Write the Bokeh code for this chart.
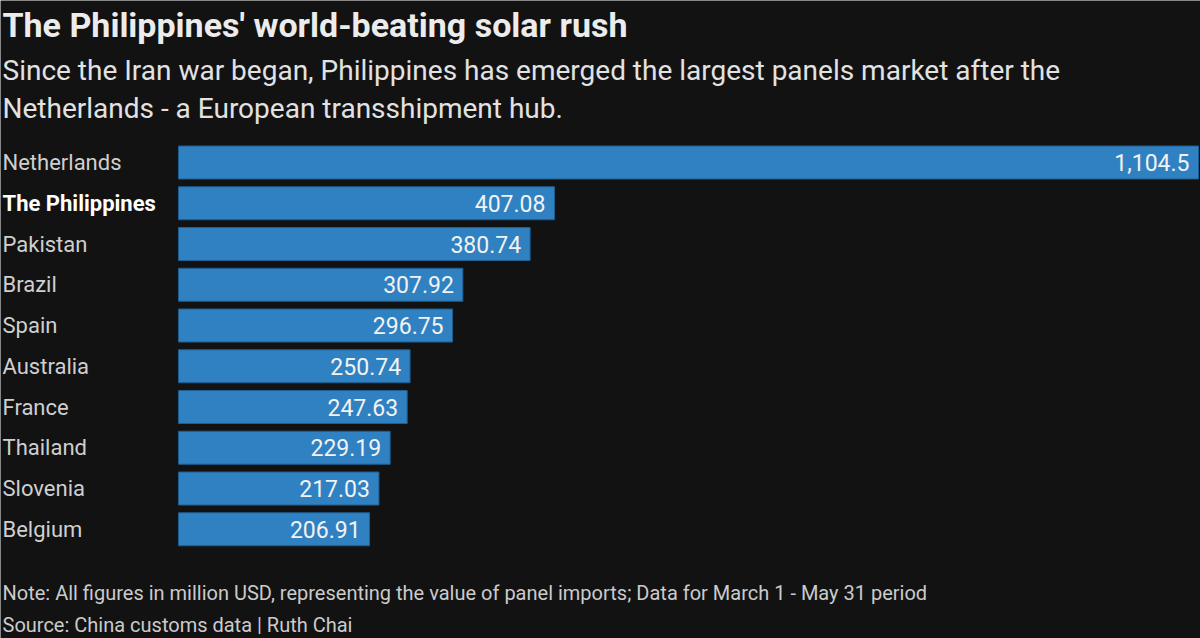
from bokeh.plotting import figure
from bokeh.models import ColumnDataSource, Range1d, Label
from bokeh.core.properties import value
from bokeh.embed import file_html
from bokeh.resources import INLINE

countries = ["Netherlands", "The Philippines", "Pakistan", "Brazil", "Spain",
             "Australia", "France", "Thailand", "Slovenia", "Belgium"]
imports_musd = [1104.5, 407.08, 380.74, 307.92, 296.75, 250.74, 247.63, 229.19, 217.03, 206.91]
value_labels = ["1,104.5", "407.08", "380.74", "307.92", "296.75",
                "250.74", "247.63", "229.19", "217.03", "206.91"]
highlight = "The Philippines"

title = "The Philippines' world-beating solar rush"
subtitle_lines = ["Since the Iran war began, Philippines has emerged the largest panels market after the",
                  "Netherlands - a European transshipment hub."]
note = "Note: All figures in million USD, representing the value of panel imports; Data for March 1 - May 31 period"
source = "Source: China customs data | Ruth Chai"

W, H = 1200, 638
BG = "#121212"
FONT = "Roboto"

# layout: pixel geometry of the chart area
bar_left_px, bar_right_px = 178, 1198
row0_px, row_step_px = 162, 40.75
px_per_unit = (bar_right_px - bar_left_px) / max(imports_musd)

x0 = -bar_left_px / px_per_unit
x1 = (W - bar_left_px) / px_per_unit
y_top = -row0_px / row_step_px
y_bot = (H - row0_px) / row_step_px


def px_x(px):
    return x0 + px / px_per_unit


def px_y(py):
    return y_top + py / row_step_px


p = figure(width=W, height=H, output_backend="svg", toolbar_location=None,
           x_range=Range1d(x0, x1), y_range=Range1d(y_bot, y_top),
           x_axis_location=None, y_axis_location=None, min_border=0,
           background_fill_color=BG, border_fill_color=BG, outline_line_color=None)
p.grid.visible = False

idx = list(range(len(countries)))
src = ColumnDataSource(dict(
    y=idx, v=imports_musd, lab=value_labels, name=countries,
    lx=[px_x(2)] * len(countries),
    style=["bold" if c == highlight else "normal" for c in countries],
    ncol=["#ffffff" if c == highlight else "#cfcfcf" for c in countries],
))

p.hbar(y="y", left=0, right="v", height=33 / row_step_px, source=src,
       fill_color="#3081c1", line_color="#1e5e93", line_width=1)

p.text(x="v", y="y", text="lab", source=src, x_offset=-9,
       text_align="right", text_baseline="middle", text_color="#f2f2f2",
       text_font=value(FONT), text_font_size="23px")

p.text(x="lx", y="y", text="name", source=src, text_align="left",
       text_baseline="middle", text_color="ncol", text_font=value(FONT),
       text_font_size="22px", text_font_style="style")

p.add_layout(Label(x=px_x(2), y=px_y(24), text=title, text_font=FONT,
                   text_font_size="34px", text_font_style="bold",
                   text_color="#ececec", text_baseline="middle"))
for i, line in enumerate(subtitle_lines):
    p.add_layout(Label(x=px_x(2), y=px_y(70 + 38 * i), text=line, text_font=FONT,
                       text_font_size="28px", text_color="#e2e2e2",
                       text_baseline="middle"))
p.add_layout(Label(x=px_x(2), y=px_y(592), text=note, text_font=FONT,
                   text_font_size="20px", text_color="#cbcbcb", text_baseline="middle"))
p.add_layout(Label(x=px_x(2), y=px_y(624), text=source, text_font=FONT,
                   text_font_size="20px", text_color="#cbcbcb", text_baseline="middle"))

open("out.html", "w").write(file_html(p, INLINE))
